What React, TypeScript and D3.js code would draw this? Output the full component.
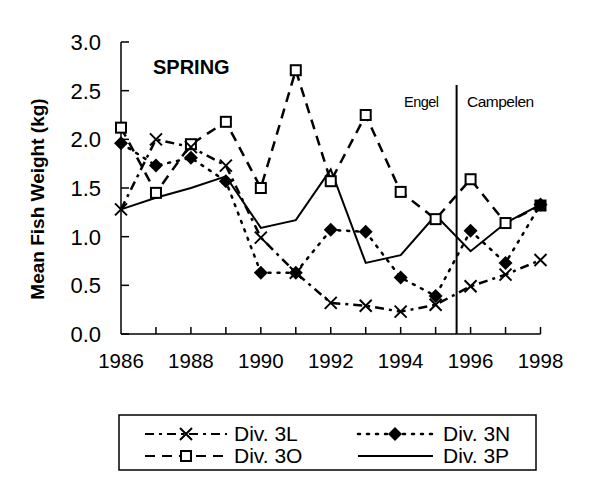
import React from "react";
import * as d3 from "d3";

const years = [1986, 1987, 1988, 1989, 1990, 1991, 1992, 1993, 1994, 1995, 1996, 1997, 1998];
const div3L = [1.28, 2.0, 1.92, 1.73, 0.99, 0.63, 0.32, 0.29, 0.23, 0.3, 0.49, 0.61, 0.76];
const div3N = [1.96, 1.73, 1.81, 1.57, 0.63, 0.63, 1.07, 1.05, 0.58, 0.39, 1.06, 0.73, 1.33];
const div3O = [2.12, 1.45, 1.95, 2.18, 1.5, 2.71, 1.57, 2.25, 1.46, 1.18, 1.59, 1.14, 1.32];
const div3P = [1.28, 1.4, 1.5, 1.62, 1.09, 1.17, 1.69, 0.73, 0.81, 1.22, 0.85, 1.14, 1.33];
const yTicks = [0, 0.5, 1.0, 1.5, 2.0, 2.5, 3.0];
const xTickLabels = [1986, 1988, 1990, 1992, 1994, 1996, 1998];
const gearChangeYear = 1995.6;

const FONT = "'Liberation Sans', Arial, sans-serif";

export default function App() {
  const x = d3.scaleLinear().domain([1986, 1998]).range([121, 540.5]);
  const y = d3.scaleLinear().domain([0, 3]).range([334, 42]);
  const line = (vals: number[]) =>
    d3.line<number>().x((_, i) => x(years[i])).y((v) => y(v))(vals) || "";

  const xMark = (cx: number, cy: number, k: string) => (
    <path key={k} d={`M${cx - 6},${cy - 6}L${cx + 6},${cy + 6}M${cx - 6},${cy + 6}L${cx + 6},${cy - 6}`} stroke="#000" strokeWidth={2} fill="none" />
  );
  const diamond = (cx: number, cy: number, k: string) => (
    <path key={k} d={`M${cx},${cy - 7}L${cx + 7},${cy}L${cx},${cy + 7}L${cx - 7},${cy}Z`} fill="#000" />
  );
  const square = (cx: number, cy: number, k: string, filled = false) => (
    <rect key={k} x={cx - 5} y={cy - 5} width={10} height={10} fill={filled ? "#000" : "#fff"} stroke="#000" strokeWidth={2} />
  );

  return (
    <svg width={600} height={497} style={{ display: "block", position: "absolute", left: 0, top: 0 }} fontFamily={FONT}>
      <rect width={600} height={497} fill="#fff" />
      {/* axes */}
      <line x1={x(1986)} x2={x(1998)} y1={y(0)} y2={y(0)} stroke="#000" strokeWidth={1.5} />
      <line x1={x(1986)} x2={x(1986)} y1={y(0)} y2={y(3)} stroke="#000" strokeWidth={1.5} />
      {yTicks.map((t) => (
        <g key={"yt" + t}>
          <line x1={x(1986)} x2={x(1986) + 8} y1={y(t)} y2={y(t)} stroke="#000" strokeWidth={1.5} />
          <text x={101} y={y(t) + 8} textAnchor="end" fontSize={22}>{t.toFixed(1)}</text>
        </g>
      ))}
      {years.slice(1).map((yr) => (
        <line key={"xt" + yr} x1={x(yr)} x2={x(yr)} y1={y(0)} y2={y(0) - 7} stroke="#000" strokeWidth={1.5} />
      ))}
      {xTickLabels.map((yr) => (
        <text key={"xl" + yr} x={x(yr)} y={368} textAnchor="middle" fontSize={20.5}>{yr}</text>
      ))}
      <text transform={`translate(44,199) rotate(-90)`} textAnchor="middle" fontSize={19} fontWeight="bold">Mean Fish Weight (kg)</text>
      <text x={153} y={74} fontSize={20} fontWeight="bold">SPRING</text>
      {/* gear change */}
      <line x1={x(gearChangeYear)} x2={x(gearChangeYear)} y1={85} y2={y(0)} stroke="#000" strokeWidth={2} />
      <text x={404} y={107} fontSize={14.5} letterSpacing={-0.5}>Engel</text>
      <text x={467} y={107} fontSize={15.5} letterSpacing={-0.5}>Campelen</text>
      {/* series */}
      <path d={line(div3P)} fill="none" stroke="#000" strokeWidth={2} />
      <path d={line(div3O)} fill="none" stroke="#000" strokeWidth={2.5} strokeDasharray="10,7" />
      <path d={line(div3L)} fill="none" stroke="#000" strokeWidth={2.5} strokeDasharray="9,5,3,5" />
      <path d={line(div3N)} fill="none" stroke="#000" strokeWidth={2.5} strokeDasharray="2,7" strokeLinecap="round" />
      {div3O.map((v, i) => square(x(years[i]), y(v), "o" + i, i === years.length - 1))}
      {div3N.map((v, i) => diamond(x(years[i]), y(v), "n" + i))}
      {div3L.map((v, i) => xMark(x(years[i]), y(v), "l" + i))}
      {/* legend */}
      <rect x={119} y={415} width={417} height={55} fill="none" stroke="#000" strokeWidth={1.5} />
      <line x1={145} x2={227} y1={434} y2={434} stroke="#000" strokeWidth={2} strokeDasharray="9,5,3,5" />
      {xMark(186, 434, "lgL")}
      <text x={234} y={441} fontSize={21}>Div. 3L</text>
      <line x1={145} x2={227} y1={456} y2={456} stroke="#000" strokeWidth={2} strokeDasharray="10,7" />
      {square(186, 456, "lgO")}
      <text x={234} y={463} fontSize={21}>Div. 3O</text>
      <line x1={358} x2={433} y1={434} y2={434} stroke="#000" strokeWidth={2.5} strokeDasharray="2,7" strokeLinecap="round" />
      {diamond(395, 434, "lgN")}
      <text x={443} y={441} fontSize={21}>Div. 3N</text>
      <line x1={358} x2={433} y1={456} y2={456} stroke="#000" strokeWidth={2} />
      <text x={443} y={463} fontSize={21}>Div. 3P</text>
    </svg>
  );
}
